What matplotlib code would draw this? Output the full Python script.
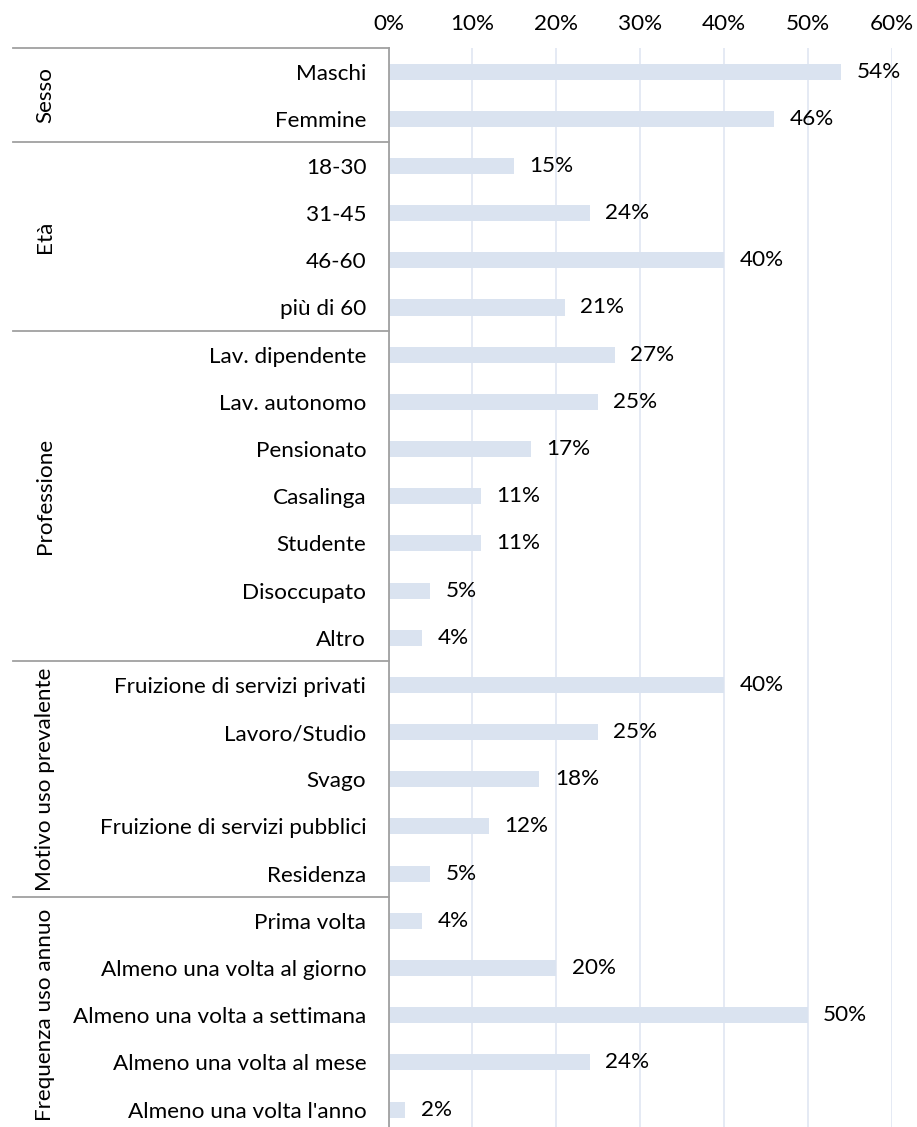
import matplotlib.pyplot as plt
from matplotlib.ticker import PercentFormatter, MultipleLocator

plt.rcParams['font.family'] = ['Lato', 'DejaVu Sans']

# survey profile, grouped
groups = ["Sesso", "Età", "Professione", "Motivo uso prevalente", "Frequenza uso annuo"]
group_items = [
    ["Maschi", "Femmine"],
    ["18-30", "31-45", "46-60", "più di 60"],
    ["Lav. dipendente", "Lav. autonomo", "Pensionato", "Casalinga", "Studente",
     "Disoccupato", "Altro"],
    ["Fruizione di servizi privati", "Lavoro/Studio", "Svago",
     "Fruizione di servizi pubblici", "Residenza"],
    ["Prima volta", "Almeno una volta al giorno", "Almeno una volta a settimana",
     "Almeno una volta al mese", "Almeno una volta l'anno"],
]
group_values = [
    [54, 46],
    [15, 24, 40, 21],
    [27, 25, 17, 11, 11, 5, 4],
    [40, 25, 18, 12, 5],
    [4, 20, 50, 24, 2],
]

labels = [s for g in group_items for s in g]
values = [v for g in group_values for v in g]
n = len(labels)
FS = 16.2

W, H = 917, 1127
fig = plt.figure(figsize=(W / 100, H / 100), dpi=100)

row_px = 47.18
top_px = 48
left_px, right_px = 388.5, 891.7
ax = fig.add_axes([left_px / W, 0, (right_px - left_px) / W, 1 - top_px / H])
y_bottom = -0.5 + (H - top_px) / row_px

ypos = list(range(n))
ax.barh(ypos, values, height=0.34, color="#dae3f0", zorder=2)
for y, v in zip(ypos, values):
    ax.annotate(f"{v}%", (v, y), xytext=(11, 0), textcoords="offset points",
                va="center", ha="left", fontsize=FS, color="black")

ax.set_xlim(0, 60)
ax.set_ylim(y_bottom, -0.5)
ax.xaxis.set_major_locator(MultipleLocator(10))
ax.xaxis.set_major_formatter(PercentFormatter(decimals=0))
ax.xaxis.tick_top()
ax.tick_params(axis="x", length=0, pad=10, labelsize=FS)
ax.set_yticks(ypos)
ax.set_yticklabels(labels)
ax.tick_params(axis="y", length=0, pad=16, labelsize=FS)
ax.grid(axis="x", color="#e0e6f2", lw=1.2, zorder=0)
for side in ("top", "right", "bottom"):
    ax.spines[side].set_visible(False)
ax.spines["left"].set_color("#a0a0a0")
ax.spines["left"].set_linewidth(1.3)

# group separators and rotated group names
def fig_y(row):
    return 1 - (top_px + (row + 0.5) * row_px) / H

start = 0
bounds = [-0.5]
for name, items in zip(groups, group_items):
    end = start + len(items)
    bounds.append(end - 0.5)
    fig.text(45 / W, fig_y((start + end - 1) / 2), name, rotation=90,
             ha="center", va="center", fontsize=FS)
    start = end

for b in bounds[:-1]:
    yy = fig_y(b)
    fig.add_artist(plt.Line2D([13 / W, left_px / W], [yy, yy], color="#a0a0a0",
                              lw=1.3, transform=fig.transFigure))

fig.savefig("out.png", dpi=100)
